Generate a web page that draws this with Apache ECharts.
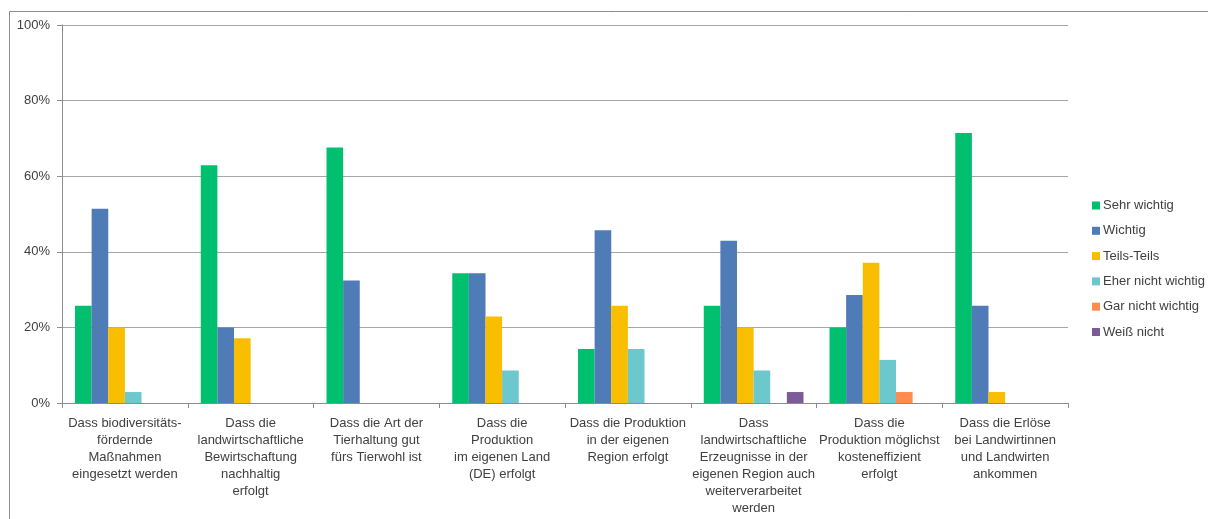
<!DOCTYPE html>
<html>
<head>
<meta charset="utf-8">
<script src="https://cdn.jsdelivr.net/npm/echarts@6/dist/echarts.min.js"></script>
<style>
html,body{margin:0;padding:0;background:#fff;}
#c{width:1208px;height:519px;}
</style>
</head>
<body>
<div id="c"></div>
<script>
const categories = [
  "Dass biodiversitäts-\nfördernde\nMaßnahmen\neingesetzt werden",
  "Dass die\nlandwirtschaftliche\nBewirtschaftung\nnachhaltig\nerfolgt",
  "Dass die Art der\nTierhaltung gut\nfürs Tierwohl ist",
  "Dass die\nProduktion\nim eigenen Land\n(DE) erfolgt",
  "Dass die Produktion\nin der eigenen\nRegion erfolgt",
  "Dass\nlandwirtschaftliche\nErzeugnisse in der\neigenen Region auch\nweiterverarbeitet\nwerden",
  "Dass die\nProduktion möglichst\nkosteneffizient\nerfolgt",
  "Dass die Erlöse\nbei Landwirtinnen\nund Landwirten\nankommen"
];
const seriesNames = ["Sehr wichtig","Wichtig","Teils-Teils","Eher nicht wichtig","Gar nicht wichtig","Weiß nicht"];
const sehrWichtig     = [25.7, 62.9, 67.6, 34.3, 14.3, 25.7, 20.0, 71.4];
const wichtig         = [51.4, 20.0, 32.4, 34.3, 45.7, 42.9, 28.6, 25.7];
const teilsTeils      = [20.0, 17.1, 0,    22.9, 25.7, 20.0, 37.1, 2.9];
const eherNichtWichtig= [2.9,  0,    0,    8.6,  14.3, 8.6,  11.4, 0];
const garNichtWichtig = [0,    0,    0,    0,    0,    0,    2.9,  0];
const weissNicht      = [0,    0,    0,    0,    0,    2.9,  0,    0];
const yTicks = [0, 20, 40, 60, 80, 100];

const values = [sehrWichtig, wichtig, teilsTeils, eherNichtWichtig, garNichtWichtig, weissNicht];
const colors = ["#00BF6F","#4F7BB6","#F9BE00","#6CC8CC","#FF8B50","#7B5B98"];
const font = "'Liberation Sans', Arial, sans-serif";

const chart = echarts.init(document.getElementById('c'), null, {renderer:'canvas'});
chart.setOption({
  animation:false,
  color: colors,
  textStyle:{fontFamily:font},
  graphic:[
    {type:'line', shape:{x1:9.5,y1:519,x2:9.5,y2:11.5}, style:{stroke:'#8c8c8c',lineWidth:1}},
    {type:'line', shape:{x1:9.5,y1:11.5,x2:1208,y2:11.5}, style:{stroke:'#8c8c8c',lineWidth:1}}
  ],
  grid:{left:62, right:140, top:25, bottom:116, containLabel:false},
  legend:{
    orient:'vertical', left:1087, top:194,
    itemWidth:8, itemHeight:8, itemGap:12.3,
    icon:'rect',
    textStyle:{fontSize:13, color:'#404040', fontFamily:font, padding:[0,0,0,-2]},
    data: seriesNames
  },
  xAxis:{
    type:'category', data:categories,
    axisLine:{lineStyle:{color:'#8c8c8c',width:1}},
    axisTick:{show:true, alignWithLabel:false, length:5, lineStyle:{color:'#8c8c8c'}},
    axisLabel:{interval:0, fontSize:13, color:'#404040', lineHeight:17, margin:12, fontFamily:font, align:'center'}
  },
  yAxis:{
    type:'value', min:0, max:100, interval:20,
    axisLine:{show:true, lineStyle:{color:'#8c8c8c',width:1}},
    axisTick:{show:true, length:5, lineStyle:{color:'#8c8c8c'}},
    splitLine:{lineStyle:{color:'#a6a6a6',width:1}},
    axisLabel:{fontSize:13, color:'#404040', margin:12, fontFamily:font,
      formatter: v => yTicks.includes(v) ? v + '%' : ''}
  },
  series: seriesNames.map((n,i)=>({
    name:n, type:'bar', data: values[i],
    barGap:'0%', barCategoryGap:'20.7%',
    itemStyle:{color:colors[i]}
  }))
});
</script>
</body>
</html>
